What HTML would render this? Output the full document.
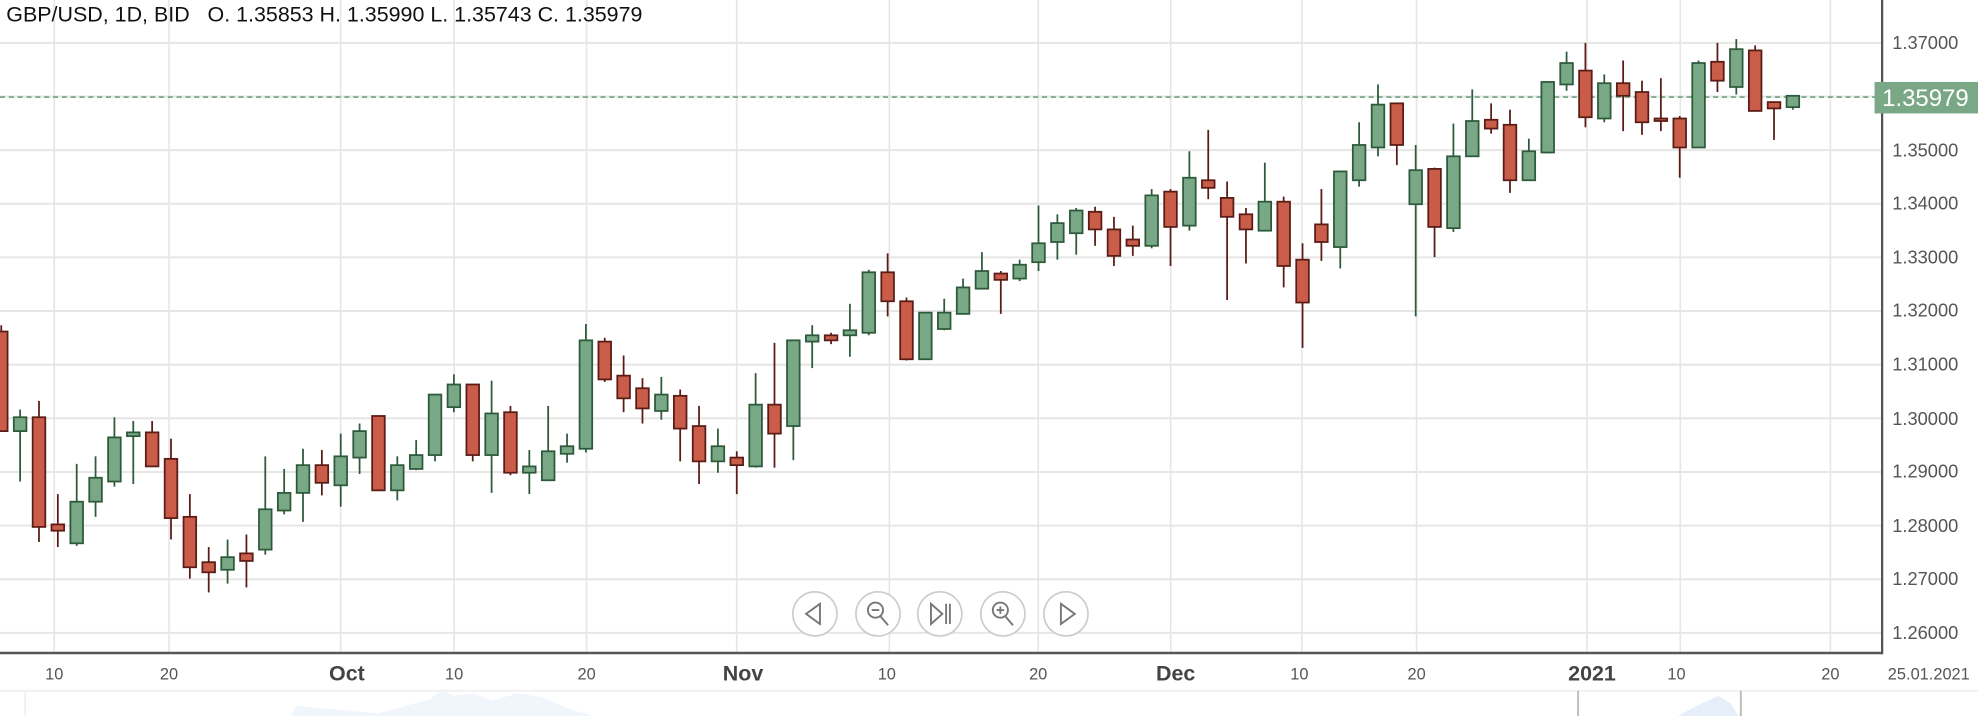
<!DOCTYPE html>
<html><head><meta charset="utf-8"><style>
html,body{margin:0;padding:0;background:#fff;width:1978px;height:716px;overflow:hidden}
svg{display:block}
text{font-family:"Liberation Sans",sans-serif}
</style></head><body>
<svg id="s" width="1978" height="716" viewBox="0 0 1568 568" preserveAspectRatio="none" xmlns="http://www.w3.org/2000/svg">
<g id="grid" stroke="#e6e6e6" stroke-width="1.6"></g>
<line x1="0" y1="77" x2="1492" y2="77" stroke="#6fa07e" stroke-width="1.3" stroke-dasharray="4,3"/>
<g id="candles"></g>
<line x1="1492" y1="0" x2="1492" y2="519" stroke="#555" stroke-width="1.8"/>
<line x1="0" y1="518" x2="1492" y2="518" stroke="#555" stroke-width="2"/>
<g fill="#555" font-size="14.5">
<text x="1500" y="39">1.37000</text><text x="1500" y="124">1.35000</text><text x="1500" y="166">1.34000</text>
<text x="1500" y="209">1.33000</text><text x="1500" y="251">1.32000</text><text x="1500" y="294">1.31000</text>
<text x="1500" y="337">1.30000</text><text x="1500" y="379">1.29000</text><text x="1500" y="422">1.28000</text>
<text x="1500" y="464">1.27000</text><text x="1500" y="507">1.26000</text>
</g>
<rect x="1486" y="65" width="82" height="25" fill="#7aa886"/>
<text x="1492" y="84" fill="#fff" font-size="19">1.35979</text>
<text x="5" y="17" fill="#111" font-size="17">GBP/USD, 1D, BID &#160; O. 1.35853 H. 1.35990 L. 1.35743 C. 1.35979</text>
<g fill="#555" font-size="13" text-anchor="middle">
<text x="43" y="539">10</text><text x="134" y="539">20</text><text x="360" y="539">10</text><text x="465" y="539">20</text>
<text x="703" y="539">10</text><text x="823" y="539">20</text><text x="1030" y="539">10</text><text x="1123" y="539">20</text>
<text x="1329" y="539">10</text><text x="1451" y="539">20</text><text x="1529" y="539">25.01.2021</text>
</g>
<g fill="#444" font-size="17" font-weight="bold" text-anchor="middle">
<text x="275" y="540">Oct</text><text x="589" y="540">Nov</text><text x="932" y="540">Dec</text><text x="1262" y="540">2021</text>
</g>
<g fill="#fff" stroke="#ccc" stroke-width="1.3">
<circle cx="646" cy="487" r="17.5"/><circle cx="696" cy="487" r="17.5"/><circle cx="745" cy="487" r="17.5"/><circle cx="795" cy="487" r="17.5"/><circle cx="845" cy="487" r="17.5"/>
</g>
<g fill="none" stroke="#777" stroke-width="1.5">
<path d="M650 479 L639 487 L650 495 Z"/>
<circle cx="694" cy="484" r="6"/><path d="M698 489 L704 496 M691 484 H697"/>
<path d="M738 479 L747 487 L738 495 Z M750 479 V495 M753 479 V495"/>
<circle cx="793" cy="484" r="6"/><path d="M797 489 L803 496 M790 484 H796 M793 481 V487"/>
<path d="M841 479 L852 487 L841 495 Z"/>
</g>
<line x1="0" y1="548" x2="1568" y2="548" stroke="#f0f0f0" stroke-width="1.5"/>
<path d="M230 568 L235 560 L300 566 L340 555 L350 548 L360 552 L375 550 L390 556 L410 550 L430 553 L450 562 L470 568 Z" fill="#f1f5fc"/>
<path d="M1330 568 L1345 560 L1362 552 L1372 558 L1378 568 Z" fill="#e6eefa"/>
<line x1="1251" y1="548" x2="1251" y2="568" stroke="#bbb" stroke-width="1.5"/>
<line x1="1380" y1="548" x2="1380" y2="568" stroke="#bbb" stroke-width="1.5"/>
<line x1="20" y1="548" x2="20" y2="568" stroke="#eee" stroke-width="1.2"/>
</svg>
<script>
var NS="http://www.w3.org/2000/svg";
function el(p,t,a){var e=document.createElementNS(NS,t);for(var k in a)e.setAttribute(k,a[k]);p.appendChild(e);return e;}
var g=document.getElementById('grid');
for(var i=0;i<12;i++){var y=34+i*42.55;el(g,'line',{x1:0,y1:y,x2:1492,y2:y});}
[43,134,270,360,465,584,705,823,928,1032,1123,1258,1332,1451].forEach(function(x){el(g,'line',{x1:x,y1:0,x2:x,y2:518,'stroke-width':1.3});});
var d=[
['r',263,342,258,342],['g',331,342,325,382],['r',331,418,318,430],['r',416,421,392,434],['g',398,431,368,433],
['g',379,398,362,410],['g',347,382,331,386],['g',343,346,334,384],['r',343,370,334,370],['r',364,411,348,428],
['r',410,450,392,459],['r',446,454,434,470],['g',442,452,428,463],['r',439,445,424,466],['g',404,436,362,440],
['g',391,405,372,408],['g',369,391,356,414],['r',369,383,357,393],['g',362,385,344,402],['g',342,363,336,376],
['r',330,389,330,389],['g',369,389,362,397],['g',361,372,349,373],['g',313,361,313,366],['g',305,323,297,327],
['r',305,361,305,366],['g',328,361,302,391],['r',327,375,322,377],['g',370,375,357,392],['g',358,381,322,381],
['g',354,360,344,367],['g',270,356,257,359],['r',271,301,268,303],['r',298,316,282,327],['r',308,324,300,336],
['g',313,326,299,333],['r',314,340,309,366],['r',338,366,322,384],['g',354,366,340,375],['r',363,369,358,392],
['g',321,370,296,371],['r',321,344,272,371],['g',270,338,270,365],['g',266,271,258,292],['r',266,270,264,273],
['g',262,266,241,283],['g',216,264,214,266],['r',216,239,201,251],['r',239,285,236,286],['g',248,285,248,285],
['g',248,261,237,262],['g',228,249,221,249],['g',215,229,200,229],['r',217,222,215,249],['g',210,221,206,223],
['g',193,208,163,215],['g',177,192,170,206],['g',167,185,165,202],['r',168,182,164,195],['r',182,203,172,211],
['r',190,195,179,203],['g',155,195,150,197],['r',152,180,150,211],['g',141,179,120,183],['r',143,149,103,158],
['r',157,172,144,238],['r',170,182,165,209],['g',160,183,129,183],['r',160,211,156,228],['r',206,240,193,276],
['r',178,192,150,207],['g',136,196,136,213],['g',115,143,97,148],['g',83,117,67,124],['r',82,115,82,131],
['g',135,162,115,251],['r',134,180,133,204],['g',124,181,98,184],['g',96,124,71,124],['r',95,102,82,106],
['r',99,143,87,153],['g',120,143,110,143],['g',65,121,65,121],['g',50,67,41,72],['r',56,93,34,101],
['g',66,94,59,97],['r',66,76,48,104],['r',73,97,64,107],['r',94,96,62,104],['r',94,117,92,141],
['g',50,117,48,117],['r',49,64,34,73],['g',39,69,31,75],['r',40,88,36,88],['r',81,86,81,111],['g',76,85,76,87]];
var c=document.getElementById('candles');
d.forEach(function(k,i){var x=1+i*14.95;var gr=k[0]=='g';var st=gr?'#2d5a3a':'#5a1c15',fi=gr?'#79a886':'#c95d4a';
el(c,'line',{x1:x,y1:k[3],x2:x,y2:k[4],stroke:st,'stroke-width':1.4});
el(c,'rect',{x:x-5,y:k[1],width:10,height:Math.max(k[2]-k[1],2),fill:fi,stroke:st,'stroke-width':1.4});});
</script>
</body></html>
